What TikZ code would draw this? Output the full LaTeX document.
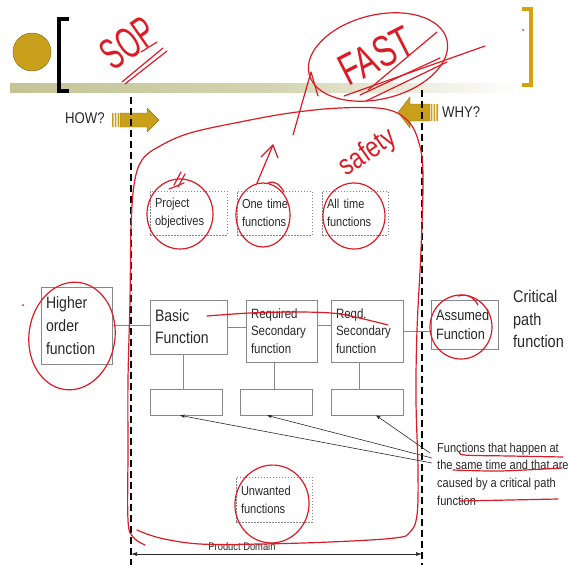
\documentclass[tikz,border=0pt]{standalone}
\usepackage{fontspec}
\setmainfont{Liberation Sans}
\newfontfamily\narrowf[FakeStretch=0.85]{Liberation Sans}
\usetikzlibrary{arrows.meta,calc}
\definecolor{gold}{RGB}{200,160,28}
\definecolor{golddark}{RGB}{140,110,18}
\definecolor{goldbr}{RGB}{212,163,12}
\definecolor{inkred}{RGB}{218,28,38}
\definecolor{txt}{RGB}{40,40,40}
\definecolor{boxline}{RGB}{135,135,135}
\definecolor{band}{RGB}{196,196,150}
\begin{document}
\begin{tikzpicture}[x=1pt,y=-1pt,
  solidbox/.style={draw=boxline, line width=0.75pt, text=txt, align=left, inner xsep=5pt, inner ysep=0pt},
  dotbox/.style={draw=boxline, line width=0.7pt, dash pattern=on 1.5pt off 1.5pt, text=txt, align=left, inner xsep=5pt, inner ysep=0pt},
  emptybox/.style={draw=boxline, line width=0.75pt, minimum width=72pt, minimum height=26pt, inner sep=0pt},
  link/.style={draw=boxline, line width=0.75pt},
  pointer/.style={draw=txt, line width=0.6pt, -{Stealth[length=5pt,width=3.5pt]}},
  domline/.style={draw=black, dash pattern=on 7pt off 4pt, line width=1.3pt},
  ink/.style={draw=inkred, line width=1.2pt, line cap=round, line join=round},
  inktext/.style={text=inkred, inner sep=0pt},
  goldarrow/.style={fill=gold, draw=golddark, line width=0.4pt},
  bigf/.style={font=\narrowf\fontsize{16.5}{23}\selectfont},
  midf/.style={font=\narrowf\fontsize{13.5}{17.5}\selectfont},
  smallf/.style={font=\narrowf\fontsize{13}{18}\selectfont},
]
\useasboundingbox (0,0) rectangle (568,565);
% header
\shade[left color=band, right color=white, middle color=band!75!white] (10,83) rectangle (522,92);
\fill[gold, draw=golddark, line width=0.5pt] (32,52) circle (19pt);
\draw[black, line width=4pt, line join=miter] (69,19) -- (59,19) -- (59,91) -- (69,91);
\draw[goldbr, line width=4pt, line join=miter] (522,9) -- (531,9) -- (531,85) -- (522,85);
% HOW / WHY arrows
\node[font=\narrowf\fontsize{15.5}{18}\selectfont, text=txt, anchor=west, inner sep=0pt] (how) at (65,118) {HOW?};
\draw[goldarrow] (120,113) -- (147,113) -- (147,108) -- (159,120) -- (147,132) -- (147,127) -- (120,127) -- cycle;
\fill[gold] (112,113) rectangle (113.6,127) (114.8,113) rectangle (116.4,127) (117.6,113) rectangle (119.2,127);
\node[font=\narrowf\fontsize{15.5}{18}\selectfont, text=txt, anchor=west, inner sep=0pt] (why) at (442,112) {WHY?};
\draw[goldarrow] (430,104) -- (410,104) -- (410,97) -- (398,112.5) -- (410,128) -- (410,121) -- (430,121) -- cycle;
\fill[gold] (430.8,104) rectangle (432.4,121) (433.6,104) rectangle (435.2,121) (436.4,104) rectangle (438,121);
% domain lines
\coordinate (la) at (131,97); \coordinate (lb) at (131,565);
\coordinate (ra) at (422,90); \coordinate (rb) at (422,565);
\draw[domline] (la) -- (lb);
\draw[domline] (ra) -- (rb);
% dotted boxes
\node[dotbox, smallf, text width=67pt, minimum height=44pt] (proj) at (188.5,213) {Project\\objectives};
\node[dotbox, smallf, text width=65pt, minimum height=44pt] (one) at (274.5,213) {One time\\functions};
\node[dotbox, smallf, text width=56pt, minimum height=44pt] (all) at (355,213) {All time\\functions};
\node[dotbox, smallf, text width=66pt, minimum height=45pt] (unw) at (274,499.5) {Unwanted\\functions};
% function boxes
\node[solidbox, bigf, text width=61pt, minimum height=77pt] (higher) at (76.5,325.5) {Higher\\order\\function};
\node[solidbox, font=\narrowf\fontsize{16.5}{22}\selectfont, text width=67pt, minimum height=54pt] (basic) at (188.5,327) {Basic\\Function};
\node[solidbox, midf, text width=61pt, minimum height=62pt] (req1) at (281.5,331) {Required\\Secondary\\function};
\node[solidbox, midf, text width=62pt, minimum height=62pt] (req2) at (367,331) {Reqd.\\Secondary\\function};
\node[solidbox, font=\narrowf\fontsize{15}{19}\selectfont, text width=57pt, minimum height=49pt] (assumed) at (464.5,324.5) {Assumed\\Function};
\node[font=\narrowf\fontsize{17}{22.5}\selectfont, text=txt, align=left, anchor=west, inner sep=0pt] (crit) at (513,319) {Critical\\path\\function};
\node[emptybox] (low1) at (186,402) {};
\node[emptybox] (low2) at (276,402) {};
\node[emptybox] (low3) at (367,402) {};
% links
\draw[link] (higher.east) -- (higher.east -| basic.west);
\draw[link] (basic.east) -- (basic.east -| req1.west);
\coordinate (r1e) at ($(req1.east)+(0,-6)$);
\draw[link] (r1e) -- (r1e -| req2.west);
\draw[link] (req2.east) -- (req2.east -| assumed.west);
\coordinate (v1) at ($(basic.south)+(-5.5,0)$);
\coordinate (v2) at ($(req1.south)+(-7.5,0)$);
\coordinate (v3) at ($(req2.south)+(-8,0)$);
\draw[link] (v1) -- (v1 |- low1.north);
\draw[link] (v2) -- (v2 |- low2.north);
\draw[link] (v3) -- (v3 |- low3.north);
% note and pointers
\node[font=\narrowf\fontsize{13}{17.7}\selectfont, text=txt, align=left, anchor=west, inner sep=0pt] (note) at (437,474) {Functions that happen at\\the same time and that are\\caused by a critical path\\function};
\coordinate (n1) at (432,463); \coordinate (n2) at (432,458); \coordinate (n3) at (430,453);
\draw[pointer] (n1) -- ($(low1.south)+(-6,0)$);
\draw[pointer] (n2) -- ($(low2.south)+(-9,0)$);
\draw[pointer] (n3) -- ($(low3.south)+(9,0)$);
% product domain
\coordinate (dl) at (131,554); \coordinate (dr) at (422,554);
\draw[draw=txt, line width=0.7pt, {Latex[length=6pt,width=4pt]}-{Latex[length=6pt,width=4pt]}] (dl) -- (dr);
\node[font=\narrowf\fontsize{11}{13}\selectfont, text=txt, inner sep=0pt] (pd) at (242,547) {Product Domain};
% ---------- red annotations ----------
\node[inktext, rotate=35, font=\fontsize{44}{44}\selectfont] (sop) at (128,43) {\scalebox{0.6}[1]{SOP}};
\draw[ink] (122,82) -- (163,48);
\draw[ink] (125,84) -- (167,51);
\draw[ink] (141,52) -- (157,42);
\draw[ink, rotate around={14:(378,57)}] (378,57) ellipse [x radius=71pt, y radius=42pt];
\node[inktext, rotate=27, font=\fontsize{44}{44}\selectfont] (fast) at (376,56) {\scalebox{0.7}[1]{FAST}};
\draw[ink] (368,90) -- (437,32);
\draw[ink] (360,95) -- (440,58);
\draw[ink] (366,101) -- (447,62);
\draw[ink] (344,96) -- (485,46);
\draw[ink] (293,135) -- (311,72) -- (318,96);
\draw[ink] plot[smooth, tension=0.6] coordinates {(145,545) (133,537) (128,520) (128,450) (128,380) (130,300) (131,230) (134,185) (142,160) (160,146) (190,133) (240,122) (290,113) (340,108) (385,109) (408,121) (419,143) (423,175) (421,250) (417,330) (416,400) (418,470) (417,515) (410,532) (395,538) (330,542) (260,544) (200,544) (160,538) (137,530)};
\node[inktext, rotate=35, font=\fontsize{29}{29}\selectfont] (safety) at (368,153) {\scalebox{0.8}[1]{safety}};
\draw[ink] (174,185) -- (181,172);
\draw[ink] (178,187) -- (185,174);
\draw[ink] (169,189) -- (184,183);
\draw[ink] (180,214) ellipse [x radius=33pt, y radius=35pt];
\draw[ink] (257,183) -- (273,145);
\draw[ink] (261,157) -- (273,145) -- (278,158);
\draw[ink] (263,215) ellipse [x radius=27pt, y radius=32pt];
\draw[ink] (268,183) .. controls (275,180) and (280,185) .. (284,192);
\draw[ink] (354,216) ellipse [x radius=31pt, y radius=33pt];
\draw[ink, rotate around={-8:(72,336)}] (72,336) ellipse [x radius=43pt, y radius=54pt];
\draw[ink] (461,327) ellipse [x radius=31pt, y radius=32pt];
\draw[ink] (458,296) .. controls (468,293) and (474,298) .. (478,305);
\draw[ink, rotate around={-10:(272,504)}] (272,504) ellipse [x radius=37pt, y radius=39pt];
\draw[ink] plot[smooth] coordinates {(207,316) (250,313) (300,312) (340,314) (388,325)};
\draw[ink] plot[smooth] coordinates {(460,451) (464,455) (510,456) (563,457)};
\draw[ink] plot[smooth] coordinates {(453,470) (500,471) (562,468)};
\draw[ink] plot[smooth] coordinates {(460,501) (510,500) (558,499)};
\fill[inkred] (23,305) circle (1pt);
\fill[inkred] (523,30) circle (1pt);
\end{tikzpicture}
\end{document}
